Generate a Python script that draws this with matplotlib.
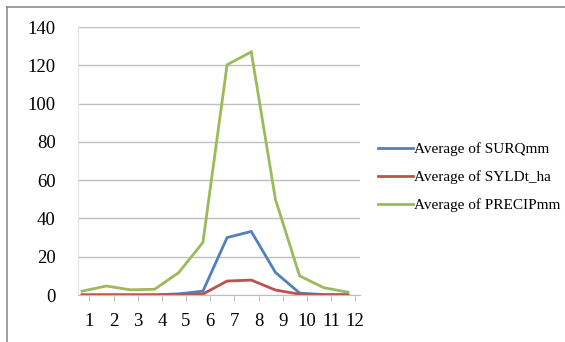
import matplotlib
matplotlib.use("Agg")
import matplotlib.pyplot as plt
from matplotlib.lines import Line2D

months = [1, 2, 3, 4, 5, 6, 7, 8, 9, 10, 11, 12]
month_labels = ["1", "2", "3", "4", "5", "6", "7", "8", "9", "10", "11", "12"]
surq = [0.1, 0.1, 0.1, 0.1, 0.6, 2.0, 30.0, 33.2, 11.8, 1.0, 0.2, 0.2]
syld = [0.0, 0.0, 0.0, 0.0, 0.2, 0.5, 7.3, 7.8, 2.6, 0.4, 0.1, 0.1]
precip = [2.0, 4.7, 2.7, 3.0, 11.7, 27.5, 120.3, 127.0, 50.0, 10.0, 3.8, 1.5]
series_names = ["Average of SURQmm", "Average of SYLDt_ha", "Average of PRECIPmm"]
colors = ["#4F81BD", "#C0504D", "#9BBB59"]

plt.rcParams['font.family'] = ['Liberation Serif', 'DejaVu Serif']

W, H = 565, 342
fig = plt.figure(figsize=(W / 100, H / 100), dpi=100)
fig.patch.set_facecolor("white")
# outer chart border (only top and left visible)
fig.add_artist(Line2D([7 / W, 1.0], [1 - 6.5 / H, 1 - 6.5 / H],
                      transform=fig.transFigure, color="#8c8c8c", linewidth=1.2))
fig.add_artist(Line2D([7 / W, 7 / W], [0.0, 1 - 6.5 / H],
                      transform=fig.transFigure, color="#8c8c8c", linewidth=1.2))

left, right, top, bottom = 78, 360, 27, 295
ax = fig.add_axes([left / W, 1 - bottom / H, (right - left) / W, (bottom - top) / H])

lines = []
for vals, c in zip([surq, syld, precip], colors):
    ln, = ax.plot(months, vals, color=c, linewidth=2.0, solid_joinstyle="miter")
    lines.append(ln)

ax.set_ylim(0, 140)
ax.set_xlim(0.83, 12.5)
ax.set_yticks(range(0, 141, 20))
ax.set_yticklabels([str(v) for v in range(0, 141, 20)], fontsize=13.5)
ax.yaxis.grid(True, color="#bfbfbf", linewidth=1.0)
ax.set_axisbelow(True)
ax.set_xticks([m + 0.3 for m in months])
ax.set_xticklabels(month_labels, fontsize=13.5)
ax.tick_params(axis="y", length=0, pad=16)
ax.tick_params(axis="x", length=4, color="#bfbfbf", pad=9)
for s in ["top", "right"]:
    ax.spines[s].set_visible(False)
ax.spines["left"].set_color("#e6e6e6")
ax.spines["bottom"].set_color("#bfbfbf")

fig.legend(lines, series_names, loc="upper left",
           bbox_to_anchor=(372 / W, 1 - 136 / H), frameon=False,
           fontsize=11, handlelength=2.3, handletextpad=0.05,
           labelspacing=0.95, borderaxespad=0)

fig.savefig("out.png", dpi=100)
